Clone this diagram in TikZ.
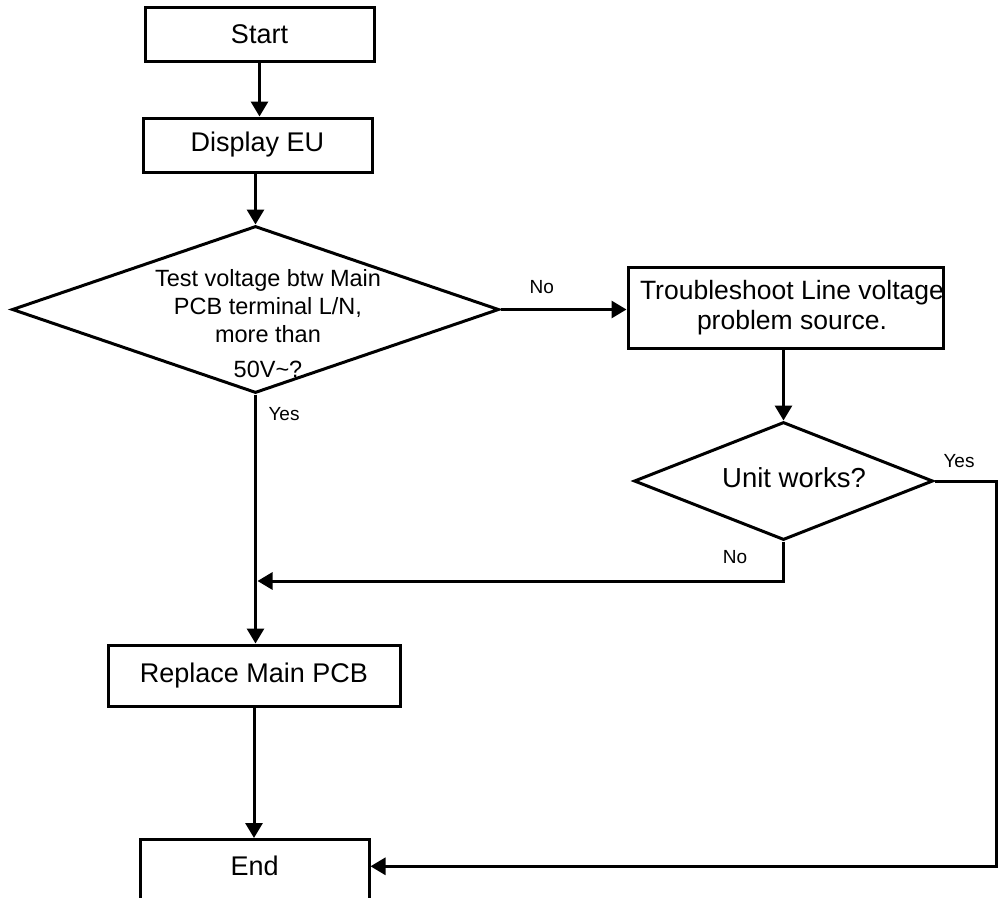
\documentclass[tikz,border=0pt]{standalone}
\usepackage{fontspec}
\setmainfont{Liberation Sans}
\usetikzlibrary{shapes.geometric,arrows.meta}
\begin{document}
\begin{tikzpicture}[x=1pt,y=-1pt, line width=3pt,
  box/.style={draw, rectangle, inner sep=0pt, font=\fontsize{27}{30}\selectfont},
  dia/.style={draw, diamond, inner sep=0pt},
  txt/.style={inner sep=0pt, align=center},
  lbl/.style={font=\fontsize{19}{22}\selectfont, inner sep=0pt},
  arr/.style={-{Triangle[length=15pt,width=17pt]}},
  ]
\path[use as bounding box, clip] (0,0) rectangle (998,897);
% nodes
\node[box, minimum width=229pt, minimum height=54pt] (start) at (259.5,34.5) {Start};
\node[box, minimum width=229pt, minimum height=54pt] (disp) at (257.5,145) {Display EU};
\node[dia, minimum width=487pt, minimum height=167pt] (d1) at (255.5,309.5) {};
\node[txt, font=\fontsize{23.5}{28}\selectfont] (d1txt) at (268,324) {Test voltage btw Main\\PCB terminal L/N,\\more than\\[7pt]50V\textasciitilde?};
\node[box, minimum width=315pt, minimum height=81pt] (t) at (785.5,307.5) {};
\node[txt, font=\fontsize{26.5}{30}\selectfont] (ttxt) at (792,307.6) {Troubleshoot Line voltage\\problem source.};
\node[dia, minimum width=299pt, minimum height=118pt] (u) at (783.5,481) {};
\node[txt, font=\fontsize{27.5}{30}\selectfont] (utxt) at (794,477.7) {Unit works?};
\node[box, minimum width=292pt, minimum height=61pt] (rep) at (254,675.5) {Replace Main PCB};
\node[box, minimum width=229pt, minimum height=80pt, anchor=north] (end) at (254.5,838) {};
\node[txt, font=\fontsize{27}{30}\selectfont] (endtxt) at (254.6,866.3) {End};
% labels
\node[lbl] (lno1) at (541.7,286.7) {No};
\node[lbl] (lyes1) at (284,414) {Yes};
\node[lbl] (lyes2) at (959,460.7) {Yes};
\node[lbl] (lno2) at (735,557) {No};
% helper coordinates
\coordinate (rr) at (996.5,0);
\coordinate (nj) at (257.5,581);
% connectors
\draw[arr] (start.south) -- (start.south |- disp.north);
\draw[arr] (d1.north |- disp.south) -- (d1.north);
\draw[arr] (d1.east) -- (d1.east -| t.west);
\draw[arr] (u.north |- t.south) -- (u.north);
\draw[arr] (d1.south) -- (d1.south |- rep.north);
\draw[arr] (rep.south) -- (rep.south |- end.north);
\draw[arr] (u.south) |- (nj);
\draw[arr] (u.east) -- (u.east -| rr) |- (endtxt -| end.east);
\end{tikzpicture}
\end{document}
